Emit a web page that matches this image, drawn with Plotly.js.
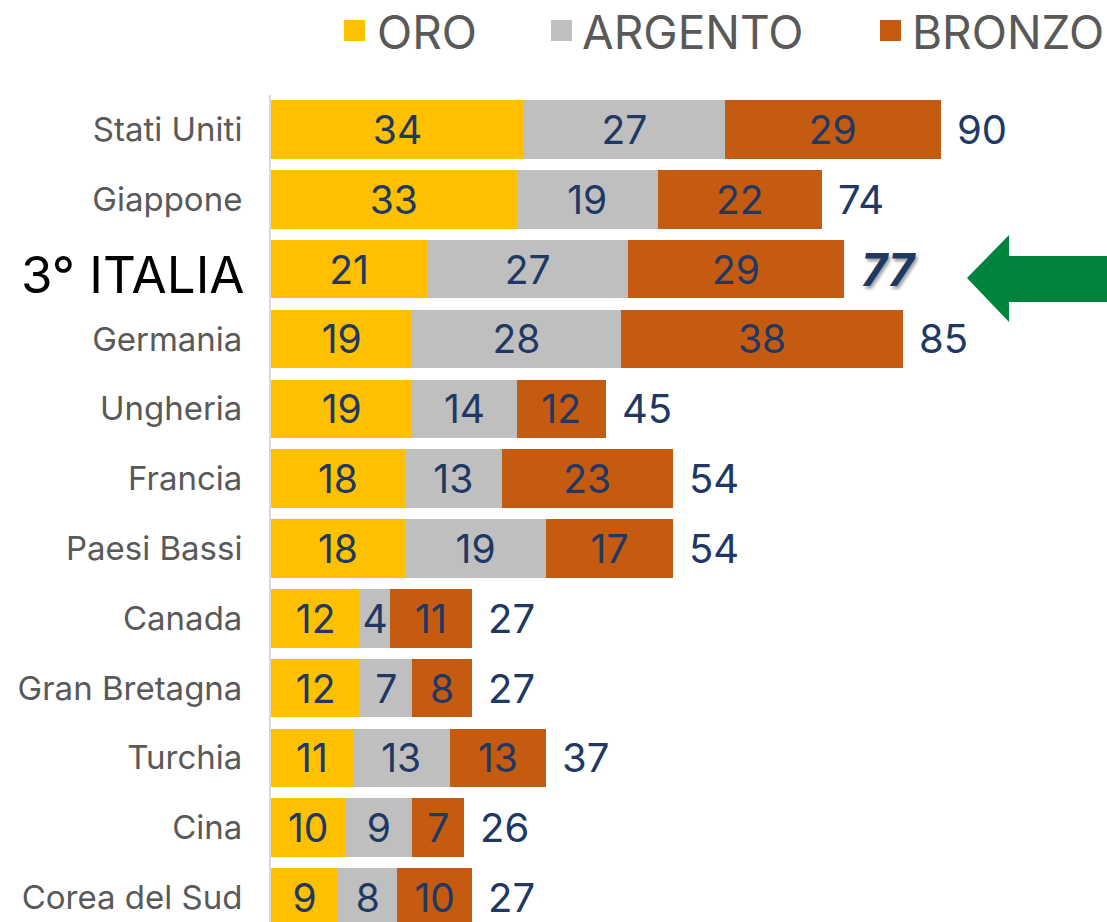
<!DOCTYPE html>
<html>
<head>
<meta charset="utf-8">
<script src="https://cdn.plot.ly/plotly-3.0.1.min.js"></script>
<style>html,body{margin:0;padding:0;background:#fff;}#chart{width:1107px;height:922px;}</style>
</head>
<body>
<div id="chart"></div>
<script>
const countries = ["Stati Uniti","Giappone","3° ITALIA","Germania","Ungheria","Francia","Paesi Bassi","Canada","Gran Bretagna","Turchia","Cina","Corea del Sud"];
const oro     = [34,33,21,19,19,18,18,12,12,11,10,9];
const argento = [27,19,27,28,14,13,19,4,7,13,9,8];
const bronzo  = [29,22,29,38,12,23,17,11,8,13,7,10];
const seriesNames = ["ORO","ARGENTO","BRONZO"];
const highlight = "3° ITALIA";

const FONT = "Inter, 'Noto Sans', sans-serif";
const NAVY = "#203864";
const colors = ["#FFC000","#BFBFBF","#C55A11"];
const W = 1107, H = 922, ML = 271, MT = 95;
const px = x => (x - ML) / (W - ML);
const py = y => (H - y) / (H - MT);

const totals = countries.map((c,i) => oro[i] + argento[i] + bronzo[i]);
const seriesVals = [oro, argento, bronzo];

const traces = seriesVals.map((vals, k) => ({
  type: "bar", orientation: "h",
  name: seriesNames[k],
  y: countries, x: vals,
  text: vals.map(String),
  textposition: "inside", insidetextanchor: "middle",
  textangle: 0, constraintext: "none",
  insidetextfont: {family: FONT, size: 39, color: NAVY},
  marker: {color: colors[k], line: {width: 0}},
  hoverinfo: "skip"
}));

const tickText = countries.map(c => c === highlight ? "" : c);

const annotations = countries.map((c,i) => ({
  x: totals[i], y: c, xref: "x", yref: "y",
  text: String(totals[i]), showarrow: false,
  xanchor: "left", yanchor: "middle", xshift: c === highlight ? 15 : 14,
  font: c === highlight
    ? {family: FONT, size: 45, color: NAVY, weight: "bold", style: "italic", shadow: "2px 3px 3px rgba(0,0,0,0.35)"}
    : {family: FONT, size: 40, color: NAVY}
}));

// highlighted category label
annotations.push({
  x: 0, y: highlight, xref: "paper", yref: "y", xanchor: "right", yanchor: "middle",
  xshift: -24, yshift: -5, showarrow: false, text: highlight,
  font: {family: FONT, size: 51, color: "#000000"}
});

// legend
const legX = [[344, 378], [551, 583], [880, 913]];
const shapes = [];
seriesNames.forEach((n, k) => {
  shapes.push({type: "rect", xref: "paper", yref: "paper",
    x0: px(legX[k][0]), x1: px(legX[k][0] + 21), y0: py(41), y1: py(20),
    fillcolor: colors[k], line: {width: 0}});
  annotations.push({xref: "paper", yref: "paper", x: px(legX[k][1] - 3), y: py(32),
    xanchor: "left", yanchor: "middle", showarrow: false, text: n,
    font: {family: FONT, size: 46, color: "#595959"}});
});

// green arrow pointing at the highlighted country
const arrowPts = [[967,278],[1009,235],[1009,256],[1107,256],[1107,302],[1009,302],[1009,322]];
shapes.push({type: "path", xref: "paper", yref: "paper",
  path: "M" + arrowPts.map(p => px(p[0]) + "," + py(p[1])).join(" L") + " Z",
  fillcolor: "#00843D", line: {width: 0}});

const layout = {
  width: W, height: H,
  margin: {l: ML, r: 0, t: MT, b: 0, pad: 0},
  paper_bgcolor: "#ffffff", plot_bgcolor: "#ffffff",
  barmode: "stack", bargap: 0.162,
  showlegend: false, hovermode: false,
  font: {family: FONT},
  xaxis: {range: [0, (W - ML) / 7.44], visible: false, fixedrange: true},
  yaxis: {
    type: "category", categoryorder: "array", categoryarray: countries,
    range: [11.35, -0.494],
    tickvals: countries, ticktext: tickText,
    tickfont: {family: FONT, size: 33, color: "#595959"},
    showline: true, linecolor: "#D9D9D9", linewidth: 2,
    showgrid: false, zeroline: false, ticks: "", ticklabelstandoff: 20,
    fixedrange: true
  },
  shapes: shapes,
  annotations: annotations
};

Plotly.newPlot("chart", traces, layout, {displayModeBar: false, staticPlot: true});
</script>
</body>
</html>
